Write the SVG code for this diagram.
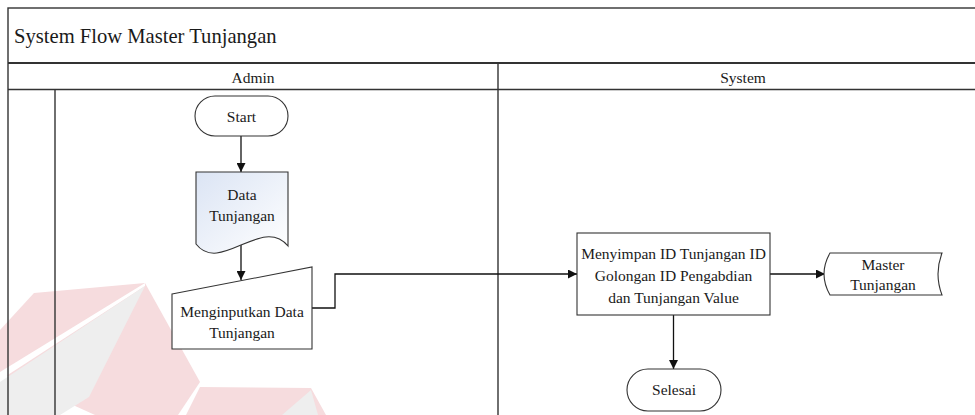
<svg xmlns="http://www.w3.org/2000/svg" width="975" height="415" viewBox="0 0 975 415">
  <style>
    text { font-family: "Liberation Serif", "DejaVu Serif", "Noto Serif", serif; fill: #1a1a1a; }
    .t { font-size: 15.5px; text-anchor: middle; }
    .title { font-size: 20.6px; }
    .shape { fill: #ffffff; stroke: #333333; stroke-width: 1.1; }
    .lane { fill: none; stroke: #333333; stroke-width: 1.4; }
    .wire { fill: none; stroke: #111111; stroke-width: 1.3; marker-end: url(#arrow); }
    .wm-pink { fill: #f6dcde; }
    .wm-grey { fill: #eeeeee; }
  </style>
  <defs>
    <marker id="arrow" viewBox="0 0 10 10" refX="10" refY="5" markerWidth="9" markerHeight="9" markerUnits="userSpaceOnUse" orient="auto">
      <path d="M0,0 L10,5 L0,10 Z" fill="#111111"/>
    </marker>
    <linearGradient id="docFill" x1="0" y1="0" x2="1" y2="1">
      <stop offset="0" stop-color="#dbe4f4"/>
      <stop offset="1" stop-color="#ffffff"/>
    </linearGradient>
  </defs>

  <rect x="0" y="0" width="975" height="415" fill="#ffffff"/>

  <!-- faint background logo -->
  <g id="background-logo">
    <polygon class="wm-pink" points="34,293 145,283 200,382 178,415 95,415 0,372 0,330"/>
    <polygon fill="#ffffff" points="145,283 0,372 0,380 145,286"/>
    <polygon class="wm-grey" points="145,286 0,382 0,415 60,415 89,397"/>
    <polygon class="wm-pink" points="200,387 311,388 326,415 186,415"/>
    <polygon class="wm-grey" points="311,390 282,415 318,415"/>
  </g>

  <!-- swimlane frame -->
  <g id="pool" font-family="Liberation Serif, DejaVu Serif, serif">
    <rect class="lane" x="8" y="8" width="990" height="430"/>
    <line x1="8" y1="63" x2="975" y2="63" stroke="#333333" stroke-width="2.2"/>
    <line x1="8" y1="89.5" x2="975" y2="89.5" stroke="#333333" stroke-width="1.6"/>
    <line class="lane" x1="498" y1="63" x2="498" y2="415"/>
    <line class="lane" x1="55" y1="89.5" x2="55" y2="415"/>
    <text class="title" x="14" y="43">System Flow Master Tunjangan</text>
    <text class="t" x="253" y="83">Admin</text>
    <text class="t" x="743" y="83">System</text>
  </g>

  <!-- connectors -->
  <g id="connectors">
    <line class="wire" x1="241" y1="136" x2="241" y2="172"/>
    <line class="wire" x1="241" y1="244" x2="241" y2="280"/>
    <polyline class="wire" points="312,308 335,308 335,274 577,274"/>
    <line class="wire" x1="770" y1="274" x2="825" y2="274"/>
    <line class="wire" x1="673.5" y1="315" x2="673.5" y2="369"/>
  </g>

  <g id="start">
    <rect class="shape" x="195" y="96" width="93" height="40" rx="20" ry="20"/>
    <text class="t" x="241.5" y="122">Start</text>
  </g>

  <g id="data-tunjangan">
    <path class="shape" style="fill:url(#docFill)" d="M196,172 H288 V246 C262,215 220,275 196,244 Z"/>
    <text class="t" x="242" y="200">Data</text>
    <text class="t" x="242" y="221">Tunjangan</text>
  </g>

  <g id="input-tunjangan">
    <polygon class="shape" points="172,294 312,267 312,349 172,349"/>
    <text class="t" x="242" y="317">Menginputkan Data</text>
    <text class="t" x="242" y="338">Tunjangan</text>
  </g>

  <g id="simpan-tunjangan">
    <rect class="shape" x="577" y="233" width="193" height="82"/>
    <text class="t" x="673.5" y="259">Menyimpan ID Tunjangan ID</text>
    <text class="t" x="673.5" y="281">Golongan ID Pengabdian</text>
    <text class="t" x="673.5" y="303">dan Tunjangan Value</text>
  </g>

  <g id="master-tunjangan">
    <path class="shape" d="M830,253 H942 Q934,274 942,295 H830 Q818,274 830,253 Z"/>
    <text class="t" x="883" y="270">Master</text>
    <text class="t" x="883" y="290">Tunjangan</text>
  </g>

  <g id="selesai">
    <rect class="shape" x="627" y="369" width="94" height="42" rx="21" ry="21"/>
    <text class="t" x="674" y="395">Selesai</text>
  </g>
</svg>
